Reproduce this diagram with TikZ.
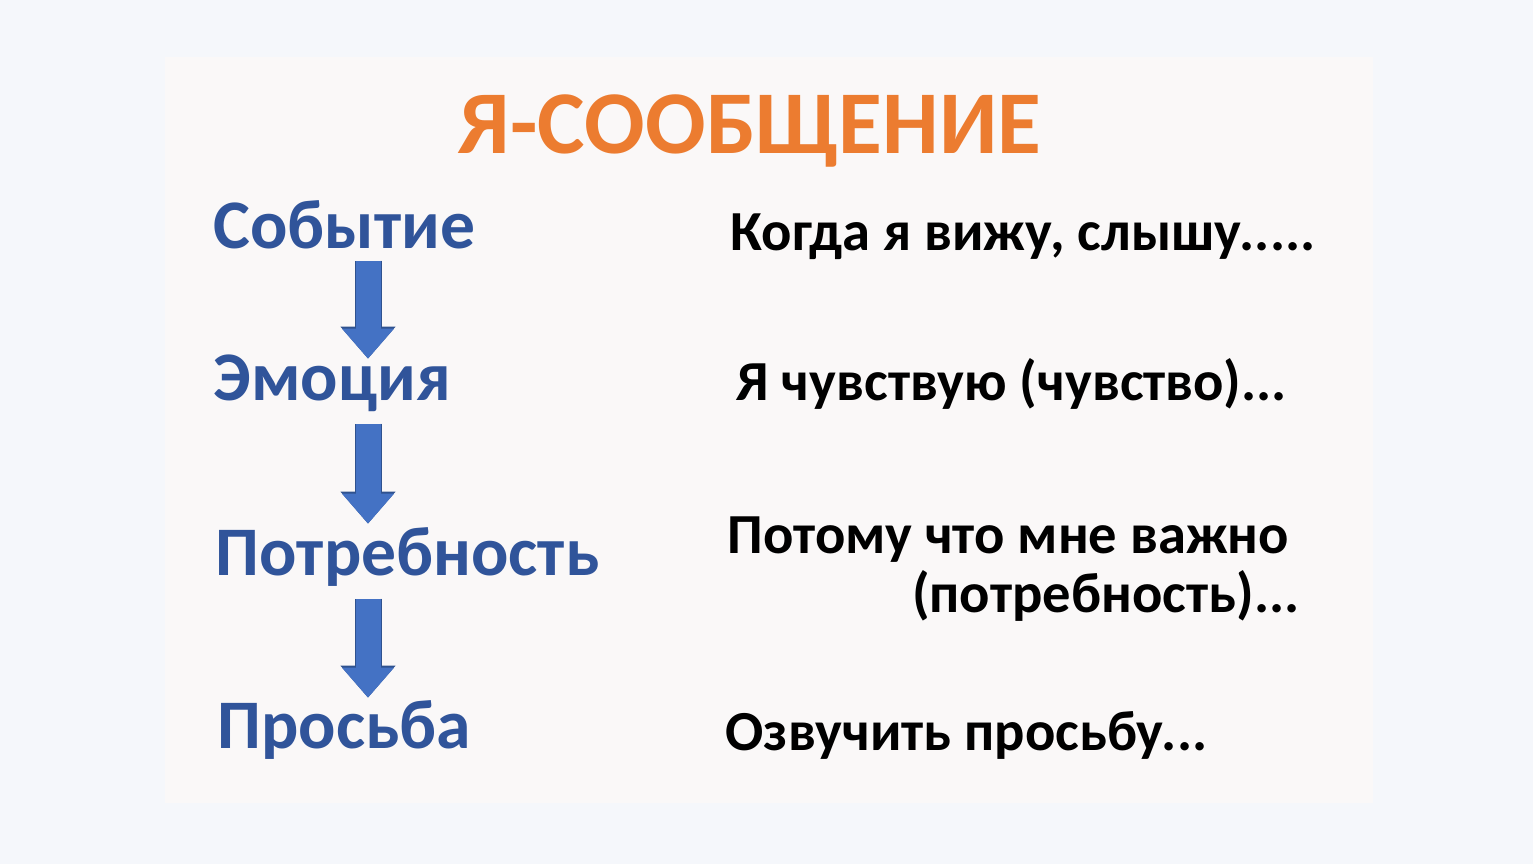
\documentclass[tikz,border=0pt]{standalone}
\usepackage{fontspec}
\setmainfont{Carlito}
\usetikzlibrary{arrows.meta}
\definecolor{pagebg}{HTML}{F5F7FB}
\definecolor{slidebg}{HTML}{FAF8F8}
\definecolor{titleorange}{HTML}{EC7C30}
\definecolor{stepblue}{HTML}{30549A}
\definecolor{arrowblue}{HTML}{4472C4}
\definecolor{arrowedge}{HTML}{2F528F}
\tikzset{
  stage/.style={anchor=base west, inner sep=0pt, text height=12.7pt, text depth=0pt,
    text=stepblue, font=\fontsize{19.8}{24}\selectfont\bfseries},
  phrase/.style={anchor=base west, inner sep=0pt, text=black,
    font=\fontsize{16.1}{19}\selectfont\bfseries},
  flow/.style={line width=2.5mm, draw=arrowblue,
    -{Triangle[width=5mm, length=3mm]},
    preaction={draw=arrowedge, line width=2.7mm, -{Triangle[width=5.3mm, length=3.2mm]}}}
}
\begin{document}
\begin{tikzpicture}[x=0.1mm, y=-0.1mm]
\fill[pagebg] (0,0) rectangle (1533,864);
\fill[slidebg] (165,57) rectangle (1373,803);
\useasboundingbox (0,0) rectangle (1533,864);

\node[anchor=base, inner sep=0pt, text=titleorange, font=\fontsize{25.5}{30}\selectfont\bfseries]
  (title) at (750,153) {Я-СООБЩЕНИЕ};

% left column
\node[stage] (event) at (213,248) {Событие};
\node[stage] (emotion) at (213,400) {Эмоция};
\node[stage] (need) at (215,575) {Потребность};
\node[stage] (request) at (217,748) {Просьба};

\coordinate (axis) at (368,0);
\draw[flow, shorten <=1.2mm, shorten >=-0.4mm] (event.south -| axis) -- (emotion.north -| axis);
\draw[flow, shorten <=2.3mm, shorten >=0.6mm] (emotion.south -| axis) -- (need.north -| axis);
\draw[flow, shorten <=2.3mm, shorten >=0.5mm] (need.south -| axis) -- (request.north -| axis);

% right column
\node[phrase] (when) at (730,250) {Когда я вижу, слышу.....};
\node[phrase] (feel) at (736,400) {Я чувствую (чувство)...};
\node[phrase] (because) at (727,553) {Потому что мне важно};
\node[phrase, anchor=base east] (needword) at (1300,612) {(потребность)...};
\node[phrase] (ask) at (725,750) {Озвучить просьбу...};
\end{tikzpicture}
\end{document}
